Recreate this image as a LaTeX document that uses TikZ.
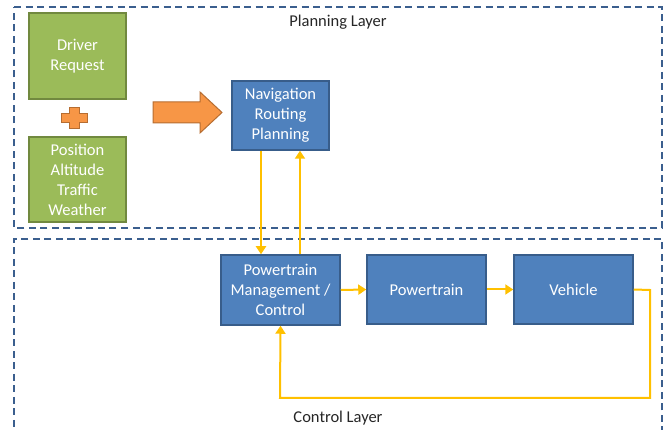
\documentclass[tikz,border=0pt]{standalone}
\usepackage{fontspec}
\setmainfont{Carlito}
\usetikzlibrary{arrows.meta}
\definecolor{gfill}{HTML}{9BBB59}
\definecolor{gdraw}{HTML}{71893F}
\definecolor{bfill}{HTML}{4F81BD}
\definecolor{bdraw}{HTML}{385D8A}
\definecolor{ofill}{HTML}{F79646}
\definecolor{odraw}{HTML}{B66D31}
\definecolor{ylw}{HTML}{FFC000}
\definecolor{dash}{HTML}{3B5F8E}
\tikzset{
  x=1pt, y=-1pt,
  layer/.style={draw=dash, line width=2pt, dash pattern=on 7pt off 4.5pt},
  gbox/.style={draw=gdraw, fill=gfill, line width=1.5pt, text=white, align=center, font=\fontsize{16.5}{20}\selectfont, inner sep=0pt},
  bbox/.style={draw=bdraw, fill=bfill, line width=1.5pt, text=white, align=center, font=\fontsize{16.5}{20}\selectfont, inner sep=0pt},
  flow/.style={draw=ylw, line width=2pt, -{Triangle[length=8pt,width=10pt]}},
  lbl/.style={font=\fontsize{16.5}{20}\selectfont, text=black!85},
  shp/.style={draw=odraw, fill=ofill, line width=1pt, line join=miter}
}
\begin{document}
\begin{tikzpicture}
\useasboundingbox (0,0) rectangle (665,430);
% layers
\draw[layer] (14,7) -- (662,7) -- (662,228) -- (14,228) -- cycle;
\draw[layer] (662,445) -- (662,239) -- (14,239) -- (14,445);
\node[lbl] (pl) at (338,22) {Planning Layer};
\node[lbl] (cl) at (338,418) {Control Layer};
% green boxes
\node[gbox, minimum width=97pt, minimum height=86pt] (dr) at (77.5,56) {Driver\\Request};
\node[gbox, minimum width=97pt, minimum height=85pt] (pos) at (77.5,179.5) {Position\\Altitude\\Traffic\\Weather};
% plus
\draw[shp]
  (69,107.5) -- (79,107.5) -- (79,114) -- (87.5,114) -- (87.5,123) -- (79,123) -- (79,128.5) -- (69,128.5) -- (69,123) -- (61,123) -- (61,114) -- (69,114) -- cycle;
% big arrow
\draw[shp] (153,102) -- (200,102) -- (200,92) -- (222,112.5) -- (200,133) -- (200,123) -- (153,123) -- cycle;
% blue boxes
\node[bbox, minimum width=97pt, minimum height=69pt] (nav) at (280.5,115.5) {Navigation\\Routing\\Planning};
\node[bbox, minimum width=119pt, minimum height=70pt] (pm) at (280.5,290) {Powertrain\\Management /\\Control};
\node[bbox, minimum width=119pt, minimum height=69pt] (pt) at (426.5,289.5) {Powertrain};
\node[bbox, minimum width=119pt, minimum height=69pt] (veh) at (573.5,289.5) {Vehicle};
% flows
\draw[flow] (nav.south -| 261,0) -- (pm.north -| 261,0);
\draw[flow] (pm.north -| 300,0) -- (nav.south -| 300,0);
\draw[flow] (pm.east) -- (pt.west);
\draw[flow] (pt.east) -- (veh.west);
\coordinate (c1) at (650,290);
\coordinate (c2) at (650,398);
\coordinate (c3) at (280,398);
\draw[flow] (veh.east) -- (c1) -- (c2) -- (c3) -- (pm.south);
\end{tikzpicture}
\end{document}
